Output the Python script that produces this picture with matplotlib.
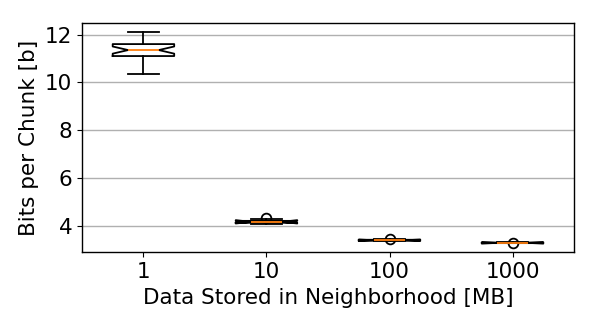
import matplotlib.pyplot as plt

# box stats
sizes = ["1", "10", "100", "1000"]
whislo = [10.35, 4.06, 3.37, 3.27]
q1 = [11.10, 4.13, 3.39, 3.28]
med = [11.35, 4.17, 3.40, 3.29]
q3 = [11.60, 4.21, 3.42, 3.30]
whishi = [12.10, 4.27, 3.44, 3.31]
cilo = [11.20, 4.10, 3.37, 3.26]
cihi = [11.50, 4.24, 3.43, 3.32]
fliers = [[], [4.35], [3.45], [3.30]]

stats = []
for i in range(len(sizes)):
    stats.append({"label": sizes[i], "whislo": whislo[i], "q1": q1[i],
                  "med": med[i], "q3": q3[i], "whishi": whishi[i],
                  "cilo": cilo[i], "cihi": cihi[i], "fliers": fliers[i]})

fig = plt.figure(figsize=(5.98, 3.09), dpi=100)
ax = fig.add_axes([0.137, 0.183, 0.823, 0.744])

lw = 1.3
ax.bxp(stats, shownotches=True, widths=0.5,
       boxprops={"linewidth": lw}, whiskerprops={"linewidth": lw},
       capprops={"linewidth": lw}, medianprops={"linewidth": lw},
       flierprops={"markeredgewidth": lw, "markersize": 7})

ax.set_ylim(2.89, 12.5)
ax.set_xlim(0.5, 4.5)
ax.set_yticks([4, 6, 8, 10, 12])
ax.yaxis.grid(True, color="#b0b0b0", linewidth=1.0)
ax.set_axisbelow(True)
ax.tick_params(labelsize=15.5)
for s in ax.spines.values():
    s.set_linewidth(1.0)

ax.set_xlabel("Data Stored in Neighborhood [MB]", fontsize=15.5)
ax.set_ylabel("Bits per Chunk [b]", fontsize=15.5)

fig.savefig("out.png", dpi=100)
